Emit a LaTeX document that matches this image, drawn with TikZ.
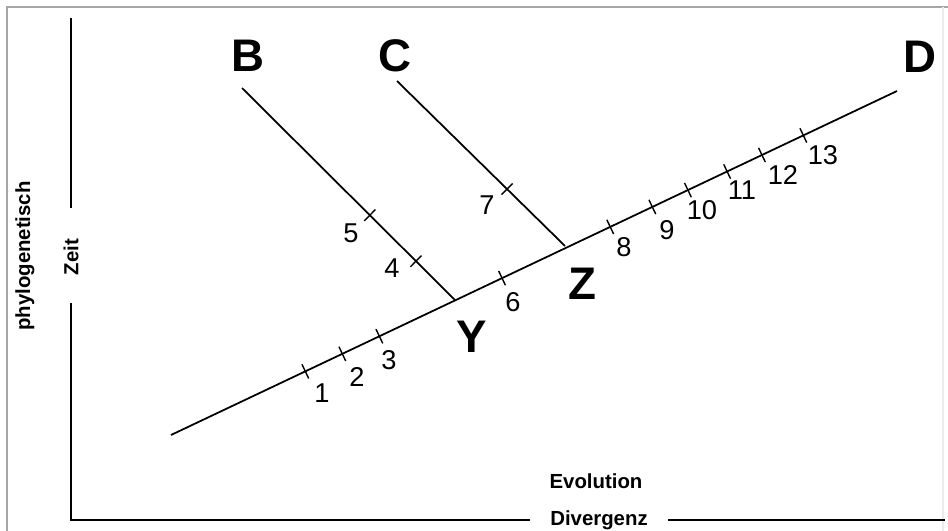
\documentclass[tikz,border=0pt]{standalone}
\usepackage{fontspec}
\setmainfont{Liberation Sans}
\usepackage{tikz}

\begin{document}
\begin{tikzpicture}[x=0.02cm,y=-0.02cm,
  every path/.style={line width=1pt},
  tip/.style={font=\fontsize{26}{26}\selectfont\bfseries,inner sep=0pt},
  achse/.style={font=\fontsize{11.6}{12}\selectfont\bfseries,inner sep=0pt},
  zahl/.style={font=\fontsize{15.5}{16}\selectfont,inner sep=0pt},
  marke/.style={sloped,inner sep=0pt,pos=#1}]
\useasboundingbox (0,0) rectangle (948,531);
% Rahmen
\draw[gray!70,line width=1.2pt] (7,531) -- (7,7) -- (948,7);
\draw[gray!15,line width=0.6pt] (943,7) -- (943,531);
% Achsen
\coordinate (Ao) at (71,18);
\coordinate (Am) at (71,208);
\coordinate (An) at (71,303);
\coordinate (Au) at (71,520);
\coordinate (Ar) at (530,520);
\coordinate (Bl) at (668,520);
\coordinate (Br) at (945,520);
\draw (Ao) -- (Am);
\draw (An) -- (Au) -- (Ar);
\draw (Bl) -- (Br);
\node[achse,rotate=90] (phylo) at (25,256) {phylogenetisch};
\node[achse,rotate=90] (zeit) at (71,257) {Zeit};
\node[achse] (evo) at (596,481) {Evolution};
\node[achse] (div) at (599,520) {Divergenz};
% Stammlinie
\coordinate (S) at (171,435);
\coordinate (Y0) at (455,300);
\coordinate (Z0) at (565,246);
\coordinate (D0) at (897,91);
\coordinate (B0) at (242,88);
\coordinate (C0) at (397,81);
\draw (S) -- (D0)
  foreach \p in {0.185,0.236,0.287,0.456,0.605,0.663,0.712,0.766,0.814,0.871}
  {node[marke=\p] {\rule{0.8pt}{9pt}}};
\draw (B0) -- (Y0)
  foreach \p in {0.60,0.817} {node[marke=\p] {\rule{0.8pt}{9pt}}};
\draw (C0) -- (Z0)
  node[marke=0.655] {\rule{0.8pt}{9pt}};
% Arten und Verzweigungen
\node[tip] (B) at (248,56) {B};
\node[tip] (C) at (395,56) {C};
\node[tip] (D) at (920,57) {D};
\node[tip] (Y) at (472,337) {Y};
\node[tip] (Z) at (582,284) {Z};
% Merkmale
\node[zahl] (m1) at (322,393) {1};
\node[zahl] (m2) at (357,377) {2};
\node[zahl] (m3) at (389,360) {3};
\node[zahl] (m4) at (392,268) {4};
\node[zahl] (m5) at (351,233) {5};
\node[zahl] (m6) at (513,302) {6};
\node[zahl] (m7) at (487,205) {7};
\node[zahl] (m8) at (624,247) {8};
\node[zahl] (m9) at (667,230) {9};
\node[zahl] (m10) at (702,210) {10};
\node[zahl] (m11) at (742,190) {11};
\node[zahl] (m12) at (783,175) {12};
\node[zahl] (m13) at (823,155) {13};
\end{tikzpicture}
\end{document}
